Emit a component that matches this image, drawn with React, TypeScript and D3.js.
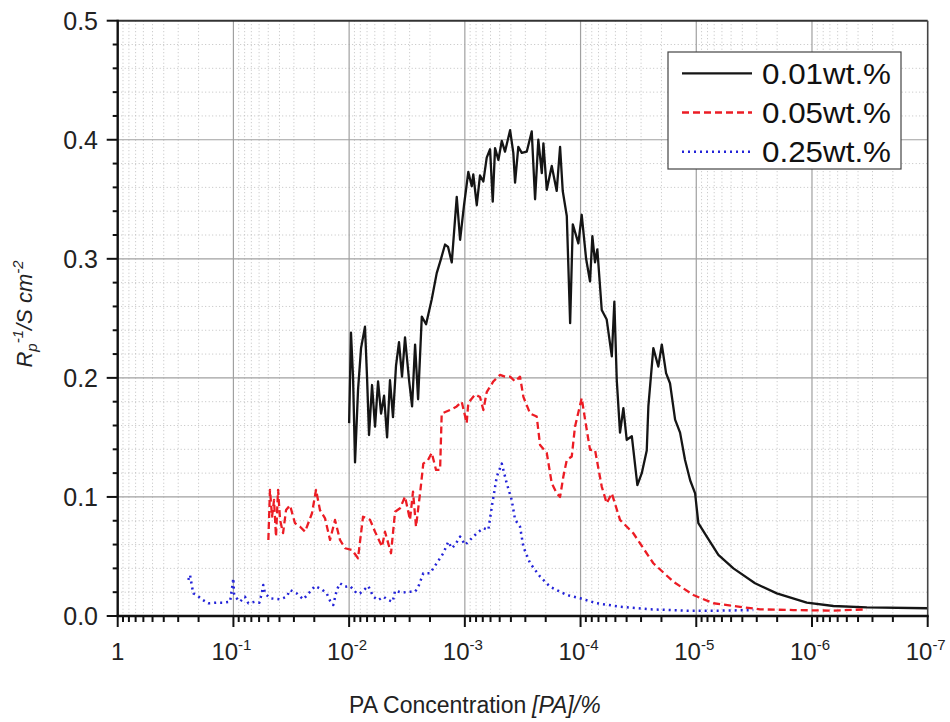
import React from "react";
import * as d3 from "d3";

// PA concentration is stored as log10 of the percentage (e.g. -2 means 10^-2 %)
const blackLogPA = [
  -2.0, -2.016, -2.034, -2.051, -2.077, -2.103, -2.137, -2.155, -2.172, -2.198, -2.224, -2.25, -2.276, -2.302,
  -2.328, -2.353, -2.379, -2.405, -2.431, -2.457, -2.483, -2.518, -2.544, -2.57, -2.596, -2.628, -2.665, -2.714,
  -2.757, -2.794, -2.829, -2.855, -2.887, -2.93, -2.959, -2.993, -3.03, -3.06, -3.073, -3.103, -3.131, -3.16,
  -3.189, -3.218, -3.241, -3.261, -3.29, -3.319, -3.347, -3.391, -3.419, -3.434, -3.462, -3.492, -3.535, -3.578,
  -3.607, -3.635, -3.665, -3.679, -3.708, -3.751, -3.794, -3.823, -3.846, -3.881, -3.91, -3.933, -3.981, -4.01,
  -4.048, -4.082, -4.102, -4.125, -4.145, -4.183, -4.226, -4.27, -4.292, -4.313, -4.341, -4.37, -4.399, -4.443,
  -4.491, -4.529, -4.572, -4.586, -4.629, -4.672, -4.702, -4.739, -4.773, -4.817, -4.86, -4.903, -4.947, -4.99,
  -5.018, -5.091, -5.191, -5.321, -5.508, -5.696, -5.955, -6.185, -6.474, -7.0,
];
const blackRp = [
  0.162, 0.238, 0.2, 0.129, 0.19, 0.225, 0.243, 0.2, 0.152, 0.194, 0.159, 0.197, 0.17, 0.185,
  0.15, 0.198, 0.167, 0.21, 0.23, 0.201, 0.234, 0.198, 0.176, 0.228, 0.182, 0.2515, 0.245, 0.266,
  0.288, 0.3, 0.312, 0.31, 0.297, 0.352, 0.316, 0.345, 0.373, 0.361, 0.371, 0.345, 0.37, 0.365,
  0.385, 0.392, 0.348, 0.393, 0.383, 0.399, 0.39, 0.408, 0.389, 0.364, 0.394, 0.389, 0.39, 0.407,
  0.35, 0.4, 0.372, 0.397, 0.358, 0.378, 0.357, 0.394, 0.357, 0.336, 0.246, 0.329, 0.313, 0.337,
  0.3, 0.281, 0.319, 0.297, 0.308, 0.257, 0.249, 0.218, 0.264, 0.198, 0.154, 0.1745, 0.148, 0.151,
  0.11, 0.12, 0.139, 0.176, 0.225, 0.2095, 0.228, 0.204, 0.1955, 0.165, 0.154, 0.131, 0.114, 0.103,
  0.078, 0.0667, 0.0513, 0.04, 0.0275, 0.019, 0.0112, 0.0084, 0.0073, 0.0065,
];

const redLogPA = [
  -1.302, -1.316, -1.334, -1.351, -1.368, -1.386, -1.403, -1.429, -1.455, -1.489, -1.532, -1.576, -1.619, -1.679,
  -1.714, -1.748, -1.792, -1.835, -1.878, -1.921, -1.965, -2.025, -2.077, -2.12, -2.181, -2.224, -2.284, -2.31,
  -2.362, -2.397, -2.44, -2.483, -2.526, -2.552, -2.578, -2.613, -2.641, -2.682, -2.714, -2.751, -2.786, -2.8,
  -2.872, -2.93, -2.973, -3.016, -3.03, -3.088, -3.131, -3.16, -3.189, -3.246, -3.304, -3.347, -3.391, -3.434,
  -3.477, -3.506, -3.564, -3.621, -3.65, -3.708, -3.751, -3.794, -3.823, -3.851, -3.881, -3.924, -3.952, -4.01,
  -4.039, -4.082, -4.125, -4.183, -4.226, -4.27, -4.341, -4.456, -4.629, -4.802, -4.975, -5.148, -5.321, -5.551,
  -5.839, -6.185, -6.474,
];
const redRp = [
  0.0639, 0.106, 0.0834, 0.0975, 0.0667, 0.106, 0.0807, 0.0697, 0.089, 0.093, 0.078, 0.075, 0.0708, 0.0863,
  0.106, 0.089, 0.082, 0.0639, 0.0807, 0.0639, 0.0569, 0.0555, 0.0485, 0.0834, 0.0807, 0.0708, 0.0582, 0.0708,
  0.0527, 0.0876, 0.0905, 0.1003, 0.0807, 0.1045, 0.075, 0.1031, 0.128, 0.131, 0.137, 0.1227, 0.1227, 0.17,
  0.173, 0.176, 0.18, 0.162, 0.179, 0.186, 0.184, 0.173, 0.188, 0.197, 0.2025, 0.201, 0.201, 0.197,
  0.201, 0.184, 0.17, 0.1675, 0.1437, 0.137, 0.1115, 0.103, 0.1, 0.117, 0.131, 0.134, 0.159, 0.183,
  0.165, 0.1395, 0.1395, 0.1087, 0.0947, 0.103, 0.0807, 0.0695, 0.0443, 0.0288, 0.0176, 0.0107, 0.0084, 0.0056,
  0.005, 0.0045, 0.0056,
];

const blueLogPA = [
  -0.61, -0.625, -0.64, -0.653, -0.683, -0.726, -0.783, -0.856, -0.913, -0.971, -0.994, -0.999, -1.005, -1.014,
  -1.057, -1.1, -1.129, -1.187, -1.224, -1.245, -1.258, -1.273, -1.316, -1.403, -1.461, -1.489, -1.547, -1.604,
  -1.662, -1.705, -1.763, -1.806, -1.835, -1.863, -1.893, -1.921, -1.965, -2.008, -2.066, -2.094, -2.166, -2.209,
  -2.252, -2.296, -2.339, -2.377, -2.397, -2.455, -2.512, -2.57, -2.598, -2.641, -2.699, -2.757, -2.814, -2.857,
  -2.887, -2.915, -2.959, -3.002, -3.045, -3.103, -3.16, -3.203, -3.233, -3.276, -3.319, -3.362, -3.405, -3.434,
  -3.477, -3.506, -3.564, -3.651, -3.736, -3.881, -3.996, -4.14, -4.341, -4.601, -4.918, -5.206, -5.493,
];
const blueRp = [
  0.0303, 0.0345, 0.026, 0.019, 0.0176, 0.014, 0.0107, 0.0112, 0.0112, 0.012, 0.0275, 0.0317, 0.019, 0.0162,
  0.012, 0.0162, 0.0107, 0.012, 0.0112, 0.019, 0.026, 0.019, 0.0149, 0.014, 0.0162, 0.0218, 0.019, 0.014,
  0.0204, 0.0252, 0.0224, 0.019, 0.0129, 0.0092, 0.0218, 0.0275, 0.0246, 0.0252, 0.019, 0.019, 0.0252, 0.0162,
  0.0134, 0.0162, 0.0134, 0.012, 0.0213, 0.0196, 0.0204, 0.0204, 0.0246, 0.0359, 0.0359, 0.0443, 0.0527, 0.0624,
  0.0569, 0.0597, 0.0667, 0.0597, 0.0639, 0.0695, 0.0737, 0.0723, 0.0918, 0.117, 0.128, 0.1115, 0.0975, 0.081,
  0.075, 0.058, 0.0443, 0.033, 0.0246, 0.0176, 0.0149, 0.0107, 0.0078, 0.0056, 0.0045, 0.0045, 0.005,
];

const seriesLabels = ["0.01wt.%", "0.05wt.%", "0.25wt.%"];
const yTickValues = [0, 0.1, 0.2, 0.3, 0.4, 0.5];
const xDecadeExponents = [0, -1, -2, -3, -4, -5, -6, -7];

const W = 950;
const H = 722;
const left = 117.7;
const right = 927.7;
const top = 20.7;
const bottom = 616;
const FONT = "'Liberation Sans', Arial, Helvetica, sans-serif";

type Pt = [number, number];
const zip = (xs: number[], ys: number[]): Pt[] => xs.map((e, i) => [Math.pow(10, e), ys[i]]);

export default function App() {
  const x = d3.scaleLog().domain([1, 1e-7]).range([left, right]);
  const y = d3.scaleLinear().domain([0, 0.5]).range([bottom, top]);

  const line = d3
    .line<Pt>()
    .x((d) => x(d[0]))
    .y((d) => y(d[1]));

  const series = [
    { data: zip(blackLogPA, blackRp), color: "#151515", dash: undefined as string | undefined, width: 2.3 },
    { data: zip(redLogPA, redRp), color: "#ec1c24", dash: "7 4", width: 2.3 },
    { data: zip(blueLogPA, blueRp), color: "#2323d8", dash: "2 4", width: 2.5 },
  ];

  const allXTicks = x.ticks();
  const majorX = xDecadeExponents.map((e) => Math.pow(10, e));
  const isMajor = (v: number) => Math.abs(Math.log10(v) - Math.round(Math.log10(v))) < 1e-6;
  const minorX = allXTicks.filter((v) => !isMajor(v));
  const minorY = d3.range(0, 0.5001, 0.02).filter((v) => Math.abs(v * 10 - Math.round(v * 10)) > 1e-6);

  return (
    <svg
      width={W}
      height={H}
      viewBox={`0 0 ${W} ${H}`}
      style={{ position: "absolute", left: 0, top: 0, display: "block", background: "#fff" }}
      fontFamily={FONT}
    >
      <rect x={0} y={0} width={W} height={H} fill="#fff" />

      {/* minor grid */}
      <g stroke="#c0c0c0" strokeWidth={1} strokeDasharray="1 2.5">
        {minorX.map((v, i) => (
          <line key={`mx${i}`} x1={x(v)} x2={x(v)} y1={top} y2={bottom} />
        ))}
        {minorY.map((v, i) => (
          <line key={`my${i}`} x1={left} x2={right} y1={y(v)} y2={y(v)} />
        ))}
      </g>

      {/* major grid */}
      <g stroke="#a0a0a0" strokeWidth={1.2}>
        {majorX.slice(1, -1).map((v, i) => (
          <line key={`gx${i}`} x1={x(v)} x2={x(v)} y1={top} y2={bottom} />
        ))}
        {yTickValues.slice(1, -1).map((v, i) => (
          <line key={`gy${i}`} x1={left} x2={right} y1={y(v)} y2={y(v)} />
        ))}
      </g>

      {/* data */}
      {series.map((s, i) => (
        <path
          key={i}
          d={line(s.data) || ""}
          fill="none"
          stroke={s.color}
          strokeWidth={s.width}
          strokeDasharray={s.dash}
          strokeLinejoin="round"
        />
      ))}

      {/* frame */}
      <line x1={left} x2={right} y1={top} y2={top} stroke="#333" strokeWidth={2} />
      <line x1={right} x2={right} y1={top} y2={bottom} stroke="#444" strokeWidth={1.6} />
      <line x1={left} x2={left} y1={top - 1} y2={bottom + 1} stroke="#111" strokeWidth={2.4} />
      <line x1={left - 1} x2={right + 1} y1={bottom} y2={bottom} stroke="#111" strokeWidth={2.4} />

      {/* y ticks */}
      <g stroke="#111" strokeWidth={2}>
        {yTickValues.map((v, i) => (
          <line key={`yt${i}`} x1={left - 11} x2={left} y1={y(v)} y2={y(v)} />
        ))}
        {minorY.map((v, i) => (
          <line key={`ymt${i}`} x1={left - 5} x2={left} y1={y(v)} y2={y(v)} />
        ))}
      </g>
      {yTickValues.map((v, i) => (
        <text key={`yl${i}`} x={98} y={y(v)} dy="0.36em" textAnchor="end" fontSize={25} fill="#222">
          {v.toFixed(1)}
        </text>
      ))}

      {/* x ticks */}
      <g stroke="#111" strokeWidth={2}>
        {majorX.map((v, i) => (
          <line key={`xt${i}`} x1={x(v)} x2={x(v)} y1={bottom} y2={bottom + 11} />
        ))}
        {minorX.map((v, i) => (
          <line key={`xmt${i}`} x1={x(v)} x2={x(v)} y1={bottom} y2={bottom + 6} />
        ))}
      </g>
      {xDecadeExponents.map((e, i) => {
        const px = x(Math.pow(10, e));
        if (e === 0) {
          return (
            <text key={`xl${i}`} x={px} y={660} textAnchor="middle" fontSize={24} fill="#222">
              1
            </text>
          );
        }
        return (
          <text key={`xl${i}`} x={px - 2} y={660} textAnchor="middle" fontSize={24} fill="#222">
            10
            <tspan fontSize={15} dy={-10}>
              {String(e)}
            </tspan>
          </text>
        );
      })}

      {/* axis titles */}
      <text x={349} y={713} fontSize={23} fill="#222">
        PA Concentration
      </text>
      <text x={532} y={713} fontSize={23} fontStyle="italic" fill="#222">
        [PA]/%
      </text>
      <text
        transform="translate(32,314) rotate(-90)"
        textAnchor="middle"
        fontSize={22}
        fontStyle="italic"
        fill="#222"
      >
        R
        <tspan fontSize={15} dy={5}>
          p
        </tspan>
        <tspan fontSize={15} dy={-14}>
          -1
        </tspan>
        <tspan fontSize={22} dy={9}>
          /S cm
        </tspan>
        <tspan fontSize={15} dy={-9}>
          -2
        </tspan>
      </text>

      {/* legend */}
      <g>
        <rect x={668} y={52} width={233} height={117} fill="#fff" stroke="#444" strokeWidth={1.2} />
        {series.map((s, i) => {
          const ly = 73.3 + i * 39.2;
          return (
            <g key={`lg${i}`}>
              <line
                x1={682}
                x2={752}
                y1={ly}
                y2={ly}
                stroke={s.color}
                strokeWidth={s.width}
                strokeDasharray={s.dash}
              />
              <text x={762} y={ly + 10.5} fontSize={29} fill="#111" textLength={129} lengthAdjust="spacingAndGlyphs">
                {seriesLabels[i]}
              </text>
            </g>
          );
        })}
      </g>
    </svg>
  );
}
